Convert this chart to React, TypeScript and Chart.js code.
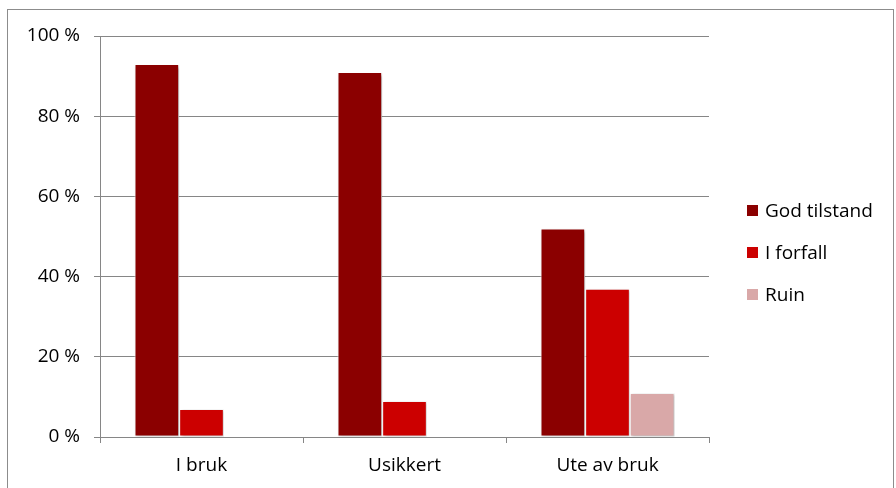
import React, { useEffect, useRef } from "react";
import { Chart, registerables } from "chart.js";

Chart.register(...registerables);

const categories = ["I bruk", "Usikkert", "Ute av bruk"];
const seriesNames = ["God tilstand", "I forfall", "Ruin"];
const godTilstand = [93, 91, 52];
const iForfall = [7, 9, 37];
const ruin = [0, 0, 11];
const colors = ["#8B0000", "#CC0000", "#D9A8A8"];
const yTicks = [0, 20, 40, 60, 80, 100];

const FONT = "'Open Sans', sans-serif";

export default function App() {
  const ref = useRef<HTMLCanvasElement | null>(null);

  useEffect(() => {
    if (!ref.current) return;
    const frame = {
      id: "frame",
      beforeDraw(chart: any) {
        const c = chart.ctx;
        c.save();
        c.fillStyle = "#fff";
        c.fillRect(0, 0, chart.width, chart.height);
        c.strokeStyle = "#8c8c8c";
        c.lineWidth = 1;
        c.strokeRect(7.5, 9.5, 886, 500);
        c.restore();
      },
    };
    const shadow = {
      id: "shadow",
      beforeDatasetsDraw(chart: any) {
        const c = chart.ctx;
        c.save();
        c.shadowColor = "rgba(0,0,0,0.28)";
        c.shadowBlur = 3;
        c.shadowOffsetX = 1.5;
        c.shadowOffsetY = 1.5;
      },
      afterDatasetsDraw(chart: any) {
        chart.ctx.restore();
      },
    };
    const data = [godTilstand, iForfall, ruin];
    const chart = new Chart(ref.current, {
      type: "bar",
      data: {
        labels: categories,
        datasets: seriesNames.map((n, i) => ({
          label: n,
          data: data[i],
          backgroundColor: colors[i],
          borderColor: "#ffffff",
          borderWidth: 1,
          borderSkipped: false,
          categoryPercentage: 0.66,
          barPercentage: 1,
        })),
      },
      options: {
        animation: false,
        responsive: false,
        events: [],
        layout: { padding: { top: 36, right: 187, left: 0, bottom: 0 } },
        plugins: { legend: { display: false }, tooltip: { enabled: false } },
        scales: {
          x: {
            offset: true,
            grid: {
              display: true,
              drawOnChartArea: false,
              drawTicks: true,
              tickLength: 6,
              color: "#868686",
              offset: true,
            },
            border: { display: true, color: "#868686" },
            ticks: { color: "#000", font: { family: FONT, size: 19 }, padding: 11 },
            afterFit(scale: any) {
              scale.height = 51;
            },
          },
          y: {
            min: 0,
            max: 100,
            afterBuildTicks(scale: any) {
              scale.ticks = yTicks.map((v) => ({ value: v }));
            },
            grid: { color: "#868686", tickLength: 6, drawTicks: true },
            border: { display: true, color: "#868686" },
            ticks: {
              color: "#000",
              font: { family: FONT, size: 19 },
              padding: 14,
              callback: (v: any) => `${v} %`,
            },
            afterFit(scale: any) {
              scale.width = 100;
            },
          },
        },
      },
      plugins: [frame, shadow],
    });
    return () => chart.destroy();
  }, []);

  return (
    <div style={{ position: "absolute", left: 0, top: 0, width: 896, height: 488, overflow: "hidden", background: "#fff" }}>
      <canvas ref={ref} width={896} height={488} style={{ display: "block" }} />
      {seriesNames.map((n, i) => (
        <div
          key={n}
          style={{
            position: "absolute",
            left: 747,
            top: 210 + i * 42 - 14,
            height: 28,
            display: "flex",
            alignItems: "center",
            fontFamily: FONT,
            fontSize: 19,
            color: "#000",
            whiteSpace: "nowrap",
          }}
        >
          <span style={{ display: "inline-block", width: 11, height: 11, background: colors[i], marginRight: 7 }} />
          {n}
        </div>
      ))}
    </div>
  );
}
